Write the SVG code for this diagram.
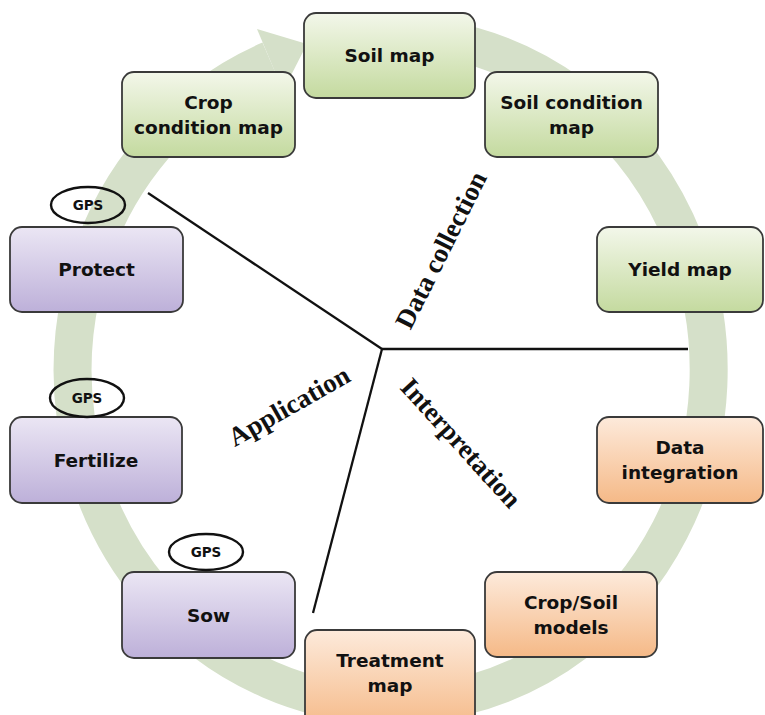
<svg xmlns="http://www.w3.org/2000/svg" width="765" height="715" viewBox="0 0 765 715">
<defs>
<linearGradient id="gGreen" x1="0" y1="0" x2="0" y2="1"><stop offset="0" stop-color="#f3f7ea"/><stop offset="1" stop-color="#c4da9f"/></linearGradient>
<linearGradient id="gPurple" x1="0" y1="0" x2="0" y2="1"><stop offset="0" stop-color="#ebe6f4"/><stop offset="1" stop-color="#bdb0d9"/></linearGradient>
<linearGradient id="gOrange" x1="0" y1="0" x2="0" y2="1"><stop offset="0" stop-color="#fdeadb"/><stop offset="1" stop-color="#f5b987"/></linearGradient>
<style>
.box{stroke:#3a3a3a;stroke-width:1.8}
.green{fill:url(#gGreen)}
.purple{fill:url(#gPurple)}
.orange{fill:url(#gOrange)}
.lbl{font-family:"DejaVu Sans",Verdana,sans-serif;font-weight:bold;font-size:18.5px;fill:#111;text-anchor:middle}
.gps{fill:none;stroke:#111;stroke-width:2.4}
.gpst{font-family:"DejaVu Sans",Verdana,sans-serif;font-weight:bold;font-size:13.5px;fill:#111;text-anchor:middle}
.phase{font-family:"Liberation Serif","Times New Roman",serif;font-weight:bold;font-size:27px;fill:#111;text-anchor:middle;dominant-baseline:central}
.sep{stroke:#111;stroke-width:2.3;fill:none}
</style>
</defs>
<rect width="765" height="715" fill="#ffffff"/>
<g id="cycle-arrow">
<path d="M 440 39 A 318 335 0 1 1 270 60" fill="none" stroke="#d5e0c9" stroke-width="38"/>
<polygon points="257,29 307,44 283,91" fill="#d5e0c9"/>
</g>
<g id="connectors">
<line class="sep" x1="382" y1="349" x2="148" y2="193"/>
<line class="sep" x1="382" y1="349" x2="688" y2="349"/>
<line class="sep" x1="382" y1="349" x2="313" y2="613"/>
</g>
<g id="phase-labels">
<text class="phase" transform="translate(441,250) rotate(-63.4)">Data collection</text>
<text class="phase" transform="translate(289,406) rotate(-29.6)">Application</text>
<text class="phase" transform="translate(461,443) rotate(47.8)">Interpretation</text>
</g>
<g id="soil-map"><rect class="box green" x="304" y="13" width="171" height="85" rx="12"/><text class="lbl" x="389.5" y="62">Soil map</text></g>
<g id="soil-condition-map"><rect class="box green" x="485" y="72" width="173" height="85" rx="12"/><text class="lbl" x="571.5" y="108.5">Soil condition</text><text class="lbl" x="571.5" y="133.5">map</text></g>
<g id="yield-map"><rect class="box green" x="597" y="227" width="166" height="85" rx="12"/><text class="lbl" x="680" y="276">Yield map</text></g>
<g id="data-integration"><rect class="box orange" x="597" y="417" width="166" height="86" rx="12"/><text class="lbl" x="680" y="454">Data</text><text class="lbl" x="680" y="479">integration</text></g>
<g id="crop-soil-models"><rect class="box orange" x="485" y="572" width="172" height="85" rx="12"/><text class="lbl" x="571" y="608.5">Crop/Soil</text><text class="lbl" x="571" y="633.5">models</text></g>
<g id="treatment-map"><rect class="box orange" x="305" y="630" width="170" height="100" rx="12"/><text class="lbl" x="390" y="667">Treatment</text><text class="lbl" x="390" y="692">map</text></g>
<g id="sow"><rect class="box purple" x="122" y="572" width="173" height="86" rx="12"/><text class="lbl" x="208.5" y="621.5">Sow</text></g>
<g id="gps-sow"><ellipse class="gps" cx="206" cy="552" rx="37" ry="18"/><text class="gpst" x="206" y="557">GPS</text></g>
<g id="fertilize"><rect class="box purple" x="10" y="417" width="172" height="86" rx="12"/><text class="lbl" x="96" y="466.5">Fertilize</text></g>
<g id="gps-fertilize"><ellipse class="gps" cx="87" cy="398" rx="37" ry="19"/><text class="gpst" x="87" y="403">GPS</text></g>
<g id="protect"><rect class="box purple" x="10" y="227" width="173" height="85" rx="12"/><text class="lbl" x="96.5" y="276">Protect</text></g>
<g id="gps-protect"><ellipse class="gps" cx="88" cy="205" rx="37" ry="18"/><text class="gpst" x="88" y="210">GPS</text></g>
<g id="crop-condition-map"><rect class="box green" x="122" y="72" width="173" height="85" rx="12"/><text class="lbl" x="208.5" y="108.5">Crop</text><text class="lbl" x="208.5" y="133.5">condition map</text></g>
</svg>
